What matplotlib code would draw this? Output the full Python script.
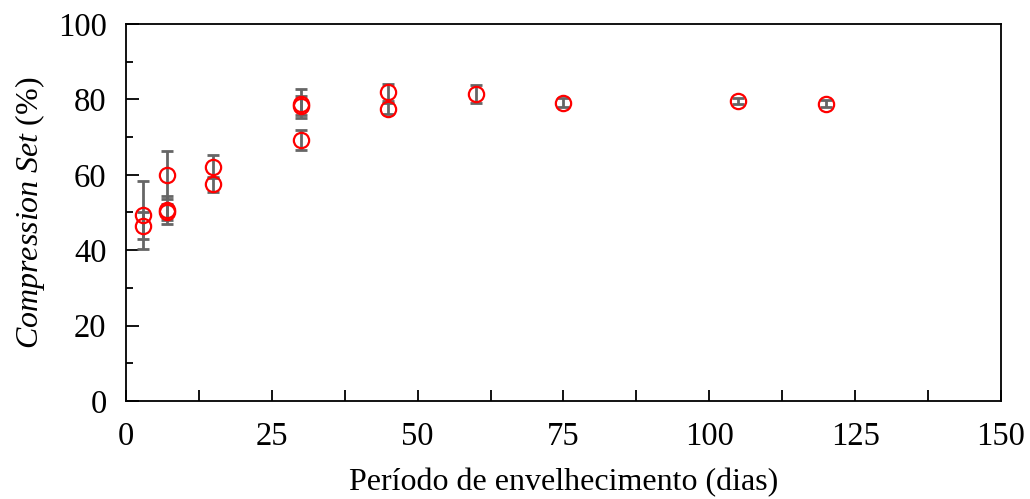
import matplotlib
matplotlib.use("Agg")
import matplotlib.pyplot as plt
from matplotlib.ticker import MultipleLocator

plt.rcParams['font.family'] = ['Liberation Serif', 'DejaVu Serif']
plt.rcParams['mathtext.fontset'] = 'custom'
plt.rcParams['mathtext.rm'] = 'Liberation Serif'
plt.rcParams['mathtext.it'] = 'Liberation Serif:italic'

# Aging period (days), compression set (%) and standard deviation
dias = [3, 3, 7, 7, 7, 15, 15, 30, 30, 30, 45, 45, 60, 75, 105, 120]
compression_set = [49.3, 46.5, 60.0, 50.7, 50.2, 62.2, 57.5, 78.9, 78.3, 69.2,
                   81.9, 77.5, 81.4, 79.1, 79.6, 78.9]
desvio = [9.0, 3.6, 6.4, 3.8, 2.1, 3.0, 2.0, 3.8, 2.5, 2.7,
          2.3, 1.5, 2.4, 1.2, 0.8, 1.0]

x_ticks = [0, 25, 50, 75, 100, 125, 150]
y_ticks = [0, 20, 40, 60, 80, 100]

fig = plt.figure(figsize=(10.30, 4.99), dpi=100)
ax = fig.add_axes([0.1223, 0.1964, 0.8495, 0.7555])

ax.errorbar(dias, compression_set, yerr=desvio, fmt='none',
            ecolor='#666666', elinewidth=2.0, capsize=4.3, capthick=2.0, zorder=2)
ax.plot(dias, compression_set, linestyle='none', marker='o', markersize=11,
        markerfacecolor='none', markeredgecolor='#ff0000', markeredgewidth=1.6, zorder=3)

ax.set_xlim(0, 150)
ax.set_ylim(0, 100)
ax.set_xticks(x_ticks)
ax.set_yticks(y_ticks)
ax.xaxis.set_minor_locator(MultipleLocator(12.5))
ax.yaxis.set_minor_locator(MultipleLocator(10))

ax.tick_params(axis='both', which='both', direction='in', top=False, right=False,
               labelsize=23.5, width=1.3, colors='black')
ax.tick_params(axis='x', which='major', length=8, pad=15)
ax.tick_params(axis='x', which='minor', length=8)
ax.tick_params(axis='y', which='major', length=9, pad=14)
ax.tick_params(axis='y', which='minor', length=5)

for s in ax.spines.values():
    s.set_linewidth(1.3)

ax.set_xlabel('Período de envelhecimento (dias)', fontsize=23, labelpad=11)
ax.set_ylabel(r'$\it{Compression\ Set}$ (%)', fontsize=23, labelpad=8)

fig.savefig('out.png', dpi=100)
